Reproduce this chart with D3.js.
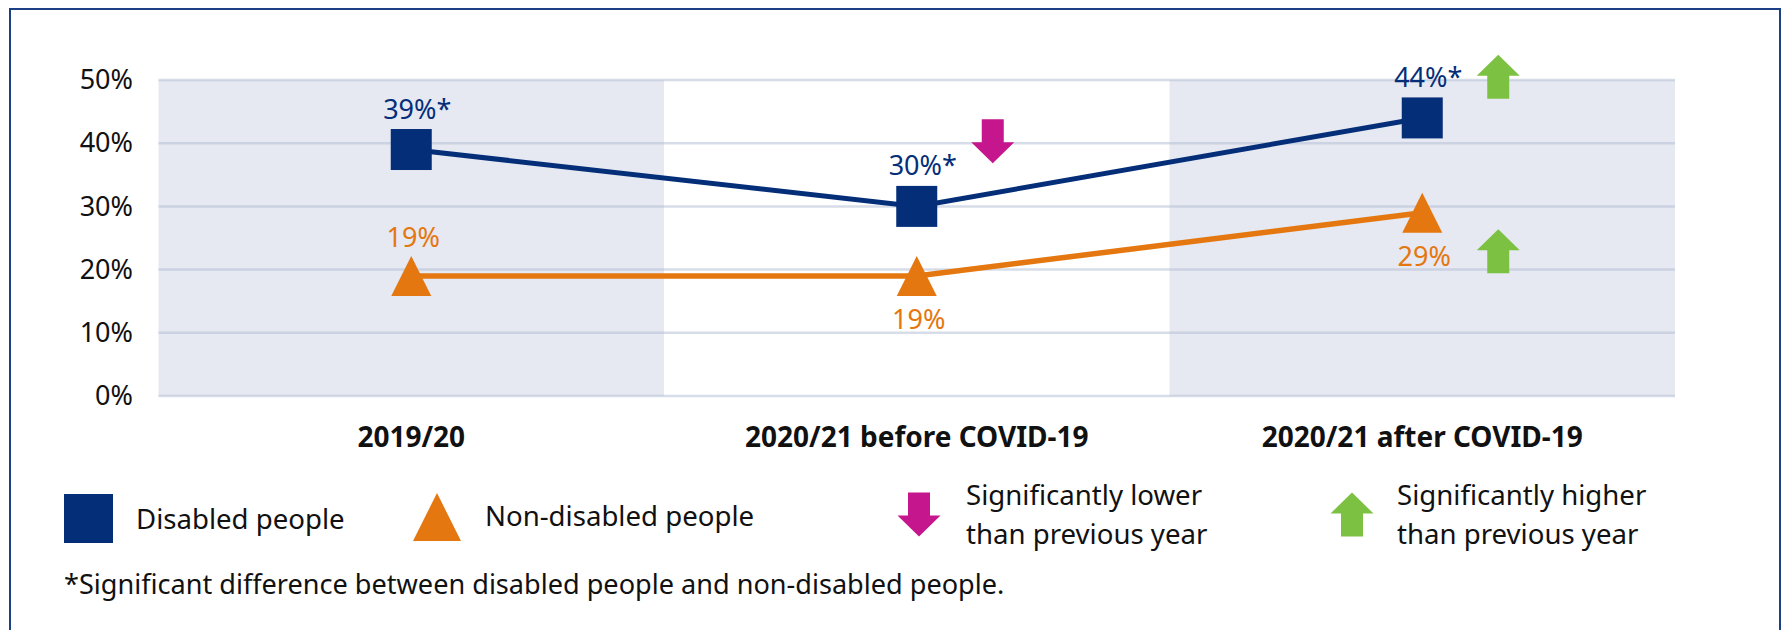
<!DOCTYPE html>
<html>
<head>
<meta charset="utf-8">
<script src="https://cdn.jsdelivr.net/npm/d3@7"></script>
<style>
  html, body { margin: 0; padding: 0; background: #fff; }
  svg { display: block; font-family: "Noto Sans", "Open Sans", sans-serif; }
</style>
</head>
<body>
<svg id="chart" width="1783" height="630"></svg>
<script>
// ---- data ----
const categories = ["2019/20", "2020/21 before COVID-19", "2020/21 after COVID-19"];
const disabledValues = [39, 30, 44];
const nonDisabledValues = [19, 19, 29];
const disabledLabels = ["39%*", "30%*", "44%*"];
const nonDisabledLabels = ["19%", "19%", "29%"];
const nonDisabledLabelSide = ["above", "below", "below"];
const yTicks = [0, 10, 20, 30, 40, 50];
const shadedCategories = ["2019/20", "2020/21 after COVID-19"];
// significance arrows: category, direction, vertical level (in % units)
const arrowCategories = ["2020/21 before COVID-19", "2020/21 after COVID-19", "2020/21 after COVID-19"];
const arrowDirections = ["down", "up", "up"];
const arrowLevels = [40.3, 50.5, 22.9];
const legendLabels = ["Disabled people", "Non-disabled people",
  ["Significantly lower", "than previous year"],
  ["Significantly higher", "than previous year"]];
const footnote = "*Significant difference between disabled people and non-disabled people.";

// ---- styles ----
const NAVY = "#052e79";
const ORANGE = "#e4770f";
const PINK = "#c6168d";
const GREEN = "#7dc142";
const BAND = "#e6e9f1";

const svg = d3.select("#chart");

// frame
svg.append("rect").attr("x", 10).attr("y", 9).attr("width", 1770).attr("height", 640)
  .attr("fill", "none").attr("stroke", "#1d3f86").attr("stroke-width", 2);

const x = d3.scaleBand().domain(categories).range([158.5, 1675]).padding(0);
const y = d3.scaleLinear().domain([0, 50]).range([396, 80]);
const cx = c => x(c) + x.bandwidth() / 2;

// shaded bands
svg.append("g").selectAll("rect").data(shadedCategories).join("rect")
  .attr("x", d => x(d)).attr("y", y(50)).attr("width", x.bandwidth()).attr("height", y(0) - y(50))
  .attr("fill", BAND);

// gridlines
svg.append("g").selectAll("line").data(yTicks).join("line")
  .attr("x1", 158.5).attr("x2", 1675).attr("y1", d => y(d)).attr("y2", d => y(d))
  .attr("stroke", "rgba(175,187,210,0.5)").attr("stroke-width", 2.5);

// y axis labels
const yAxis = d3.axisLeft(y).tickValues(yTicks).tickFormat(d => d + "%").tickSize(0).tickPadding(0);
const yg = svg.append("g").attr("transform", "translate(133,0)").call(yAxis);
yg.select(".domain").remove();
yg.selectAll("text").attr("font-size", 27).attr("fill", "#111").attr("font-family", "Noto Sans");

// x axis labels
const xAxis = d3.axisBottom(x).tickSize(0).tickPadding(0);
const xg = svg.append("g").attr("transform", "translate(0,420)").call(xAxis);
xg.select(".domain").remove();
xg.selectAll("text").attr("font-size", 28).attr("font-weight", "bold").attr("fill", "#111")
  .attr("font-family", "Noto Sans").attr("dy", "0.95em");

// lines
const line = d3.line().x(d => cx(d.c)).y(d => y(d.v));
const disabled = categories.map((c, i) => ({ c, v: disabledValues[i], label: disabledLabels[i] }));
const nonDisabled = categories.map((c, i) => ({ c, v: nonDisabledValues[i], label: nonDisabledLabels[i], side: nonDisabledLabelSide[i] }));

svg.append("path").datum(nonDisabled).attr("d", line).attr("fill", "none")
  .attr("stroke", ORANGE).attr("stroke-width", 5.5);
svg.append("path").datum(disabled).attr("d", line).attr("fill", "none")
  .attr("stroke", NAVY).attr("stroke-width", 5);

// markers
const sq = 41;
svg.append("g").selectAll("rect").data(disabled).join("rect")
  .attr("x", d => cx(d.c) - sq / 2).attr("y", d => y(d.v) - sq / 2)
  .attr("width", sq).attr("height", sq).attr("fill", NAVY);

const triW = 40, triH = 40;
svg.append("g").selectAll("path").data(nonDisabled).join("path")
  .attr("d", d => {
    const px = cx(d.c), py = y(d.v);
    return `M${px},${py - triH / 2} L${px + triW / 2},${py + triH / 2} L${px - triW / 2},${py + triH / 2} Z`;
  })
  .attr("fill", ORANGE);

// data labels
svg.append("g").selectAll("text").data(disabled).join("text")
  .attr("x", d => cx(d.c) + 6).attr("y", d => y(d.v) - 31)
  .attr("text-anchor", "middle").attr("font-size", 27).attr("fill", NAVY).text(d => d.label);
svg.append("g").selectAll("text").data(nonDisabled).join("text")
  .attr("x", d => cx(d.c) + 2).attr("y", d => y(d.v) + (d.side === "above" ? -29 : 53))
  .attr("text-anchor", "middle").attr("font-size", 27).attr("fill", ORANGE).text(d => d.label);

// arrow shape helper: centered at (ax, ay)
function arrowPath(ax, ay, dir) {
  const w = 43, s = 22, h = 44, head = 21;
  const top = ay - h / 2, bot = ay + h / 2;
  if (dir === "down") {
    const hb = bot - head;
    return `M${ax - s / 2},${top} L${ax + s / 2},${top} L${ax + s / 2},${hb} L${ax + w / 2},${hb} L${ax},${bot} L${ax - w / 2},${hb} L${ax - s / 2},${hb} Z`;
  }
  const ht = top + head;
  return `M${ax - s / 2},${bot} L${ax + s / 2},${bot} L${ax + s / 2},${ht} L${ax + w / 2},${ht} L${ax},${top} L${ax - w / 2},${ht} L${ax - s / 2},${ht} Z`;
}

const arrows = arrowCategories.map((c, i) => ({ c, dir: arrowDirections[i], level: arrowLevels[i] }));
svg.append("g").selectAll("path").data(arrows).join("path")
  .attr("d", d => arrowPath(cx(d.c) + 76, y(d.level), d.dir))
  .attr("fill", d => d.dir === "down" ? PINK : GREEN);

// legend
const lg = svg.append("g").attr("font-size", 27.6).attr("fill", "#111");
lg.append("rect").attr("x", 64).attr("y", 494).attr("width", 49).attr("height", 49).attr("fill", NAVY);
lg.append("text").attr("x", 136).attr("y", 529).text(legendLabels[0]);
lg.append("path").attr("d", "M437,493 L461,541 L413,541 Z").attr("fill", ORANGE);
lg.append("text").attr("x", 485).attr("y", 526).text(legendLabels[1]);
lg.append("path").attr("d", arrowPath(919, 514.5, "down")).attr("fill", PINK);
lg.append("text").attr("x", 966).attr("y", 505).text(legendLabels[2][0]);
lg.append("text").attr("x", 966).attr("y", 544).text(legendLabels[2][1]);
lg.append("path").attr("d", arrowPath(1352, 514.5, "up")).attr("fill", GREEN);
lg.append("text").attr("x", 1397).attr("y", 505).text(legendLabels[3][0]);
lg.append("text").attr("x", 1397).attr("y", 544).text(legendLabels[3][1]);

svg.append("text").attr("x", 64).attr("y", 594).attr("font-size", 27.1).attr("fill", "#111").text(footnote);
</script>
</body>
</html>
